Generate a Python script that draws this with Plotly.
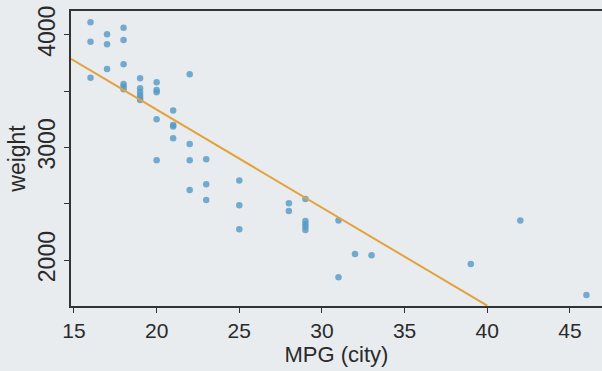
import plotly.graph_objects as go

# --- data ---
mpg_city = [16, 16, 16,
            17, 17, 17,
            18, 18, 18, 18, 18, 18,
            19, 19, 19, 19, 19, 19,
            20, 20, 20, 20, 20,
            21, 21, 21, 21,
            22, 22, 22, 22,
            23, 23, 23,
            25, 25, 25,
            28, 28,
            29, 29, 29, 29, 29,
            31, 31,
            32, 33, 39, 42, 46]
weight = [4110, 3938, 3618,
          4003, 3915, 3696,
          4062, 3953, 3737, 3563, 3540, 3515,
          3613, 3524, 3491, 3464, 3440, 3420,
          3578, 3509, 3490, 3249, 2885,
          3326, 3199, 3185, 3081,
          3649, 3030, 2885, 2622,
          2894, 2672, 2533,
          2705, 2486, 2273,
          2504, 2436,
          2542, 2347, 2320, 2295, 2267,
          2350, 1847,
          2054, 2042, 1965, 2350, 1690]

# least-squares line as drawn in the reference
fit_intercept = 5075.0
fit_slope = -87.0
fit_x = [14.82, 40.0]
fit_y = [fit_intercept + fit_slope * x for x in fit_x]

y_tickvals = [2000, 2500, 3000, 3500, 4000]
y_ticktext = ["2000", "", "3000", "", "4000"]
x_tickvals = [15, 20, 25, 30, 35, 40, 45]

FONT = "Liberation Sans, Arial, sans-serif"
BG = "#e9ecef"
TXT = "#2a2a2a"

fig = go.Figure()
fig.add_trace(go.Scatter(
    x=mpg_city, y=weight, mode="markers",
    marker=dict(size=6.5, color="rgba(84,154,198,0.8)", line=dict(width=0)),
    showlegend=False, hoverinfo="x+y"))
fig.add_trace(go.Scatter(
    x=fit_x, y=fit_y, mode="lines",
    line=dict(color="#e3a23c", width=2),
    showlegend=False, hoverinfo="skip"))

fig.update_layout(
    width=602, height=371,
    margin=dict(l=71, r=0, t=11, b=65),
    paper_bgcolor=BG, plot_bgcolor=BG,
    font=dict(family=FONT, color=TXT, size=21),
    xaxis=dict(
        range=[14.82, 46.94], tickvals=x_tickvals,
        showgrid=False, zeroline=False, automargin=False,
        showline=True, linecolor="#333", linewidth=1.5, mirror=True,
        ticks="outside", ticklen=5, tickcolor="#333", tickwidth=1,
        tickfont=dict(size=21, family=FONT, color=TXT),
        title=dict(text="MPG (city)", font=dict(size=22, family=FONT, color=TXT),
                   standoff=0),
    ),
    yaxis=dict(
        range=[1592, 4210], tickvals=y_tickvals, ticktext=y_ticktext,
        tickangle=-90, automargin=False,
        showgrid=False, zeroline=False,
        showline=True, linecolor="#333", linewidth=1.5,
        ticks="outside", ticklen=5, tickcolor="#333", tickwidth=1,
        tickfont=dict(size=23, family=FONT, color=TXT),
        title=dict(text="weight", font=dict(size=23, family=FONT, color=TXT),
                   standoff=2),
    ),
)

fig.write_html("out.html",
               config={"displayModeBar": False},
               post_script="document.body.style.margin='0';document.body.style.overflow='hidden';")
